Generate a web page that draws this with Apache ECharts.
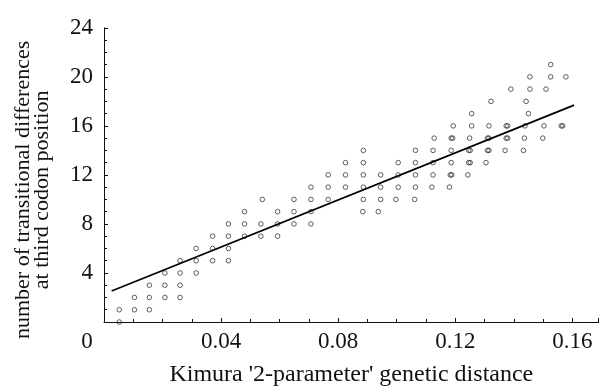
<!DOCTYPE html>
<html>
<head>
<meta charset="utf-8">
<script src="https://cdn.jsdelivr.net/npm/echarts@6/dist/echarts.min.js"></script>
<style>html,body{margin:0;padding:0;background:#fff}#c{width:600px;height:392px}</style>
</head>
<body>
<div id="c"></div>
<script>
// Kimura 2-parameter distance (x) and number of transitions at 3rd codon position (y)
var distance = [
  0.0052,
  0.0052, 0.0104, 0.0155,
  0.0104, 0.0155, 0.0208, 0.0260,
  0.0155, 0.0208, 0.0260,
  0.0208, 0.0260, 0.0315,
  0.0260, 0.0315, 0.0371, 0.0425,
  0.0315, 0.0371, 0.0425,
  0.0371, 0.0425, 0.0480, 0.0536, 0.0593,
  0.0425, 0.0480, 0.0536, 0.0593, 0.0649, 0.0707,
  0.0480, 0.0593, 0.0649, 0.0707, 0.0884, 0.0937,
  0.0541, 0.0649, 0.0707, 0.0766, 0.0886, 0.0945, 0.0997, 0.1061,
  0.0707, 0.0766, 0.0825, 0.0886, 0.0945, 0.1005, 0.1064, 0.1120, 0.1180,
  0.0766, 0.0825, 0.0886, 0.0945, 0.1005, 0.1064, 0.1124, 0.1183, 0.1188, 0.1243,
  0.0825, 0.0886, 0.1005, 0.1064, 0.1124, 0.1186, 0.1246, 0.1251, 0.1305,
  0.0886, 0.1064, 0.1124, 0.1186, 0.1246, 0.1251, 0.1310, 0.1315, 0.1370, 0.1433,
  0.1128, 0.1186, 0.1191, 0.1249, 0.1310, 0.1315, 0.1374, 0.1379, 0.1436, 0.1499,
  0.1193, 0.1256, 0.1315, 0.1374, 0.1379, 0.1438, 0.1503, 0.1562, 0.1567,
  0.1256, 0.1450,
  0.1322, 0.1442,
  0.1390, 0.1455, 0.1510,
  0.1455, 0.1526, 0.1578,
  0.1526
];
var transitions = [
  0,
  1, 1, 1,
  2, 2, 2, 2,
  3, 3, 3,
  4, 4, 4,
  5, 5, 5, 5,
  6, 6, 6,
  7, 7, 7, 7, 7,
  8, 8, 8, 8, 8, 8,
  9, 9, 9, 9, 9, 9,
  10, 10, 10, 10, 10, 10, 10, 10,
  11, 11, 11, 11, 11, 11, 11, 11, 11,
  12, 12, 12, 12, 12, 12, 12, 12, 12, 12,
  13, 13, 13, 13, 13, 13, 13, 13, 13,
  14, 14, 14, 14, 14, 14, 14, 14, 14, 14,
  15, 15, 15, 15, 15, 15, 15, 15, 15, 15,
  16, 16, 16, 16, 16, 16, 16, 16, 16,
  17, 17,
  18, 18,
  19, 19, 19,
  20, 20, 20,
  21
];
// regression line end points
var fitX = [0.0026, 0.1606];
var fitY = [2.53, 17.69];

var xTickLabels = ['0', '0.04', '0.08', '0.12', '0.16'];
var yTickLabels = ['4', '8', '12', '16', '20', '24'];
var xTitle = "Kimura '2-parameter' genetic distance";
var yTitle = 'number of transitional differences\nat third codon position';

var pts = distance.map(function (d, i) { return [d, transitions[i]]; });
var fit = fitX.map(function (d, i) { return [d, fitY[i]]; });

var FONT = "'Liberation Serif', 'Times New Roman', serif";
var chart = echarts.init(document.getElementById('c'), null, {renderer: 'canvas'});
chart.setOption({
  animation: false,
  backgroundColor: '#fff',
  grid: {left: 104, top: 27.8, right: 1.3, bottom: 66.6, containLabel: false},
  xAxis: {
    type: 'value', min: 0, max: 0.169, interval: 0.04,
    name: xTitle, nameLocation: 'middle', nameGap: 41,
    nameTextStyle: {fontFamily: FONT, fontSize: 24, color: '#111'},
    axisLine: {show: true, onZero: false, lineStyle: {color: '#111', width: 1}},
    axisTick: {show: true, inside: true, length: 4, lineStyle: {color: '#111'}},
    minorTick: {show: true, splitNumber: 4, length: 3, lineStyle: {color: '#111'}},
    splitLine: {show: false},
    axisLabel: {
      fontFamily: FONT, fontSize: 23, color: '#111', margin: 8, showMaxLabel: false,
      formatter: function (v) {
        var idx = Math.round(v / 0.04);
        if (idx === 0) return '{z|' + xTickLabels[0] + '}';
        return xTickLabels[idx] || '';
      },
      rich: {z: {fontFamily: FONT, fontSize: 23, color: '#111', padding: [0, 34, 0, 0]}}
    }
  },
  yAxis: {
    type: 'value', min: 0, max: 24, interval: 4,
    name: yTitle, nameLocation: 'middle', nameGap: 52,
    nameTextStyle: {fontFamily: FONT, fontSize: 22, lineHeight: 19, color: '#111', padding: [0, 30, 0, 0]},
    axisLine: {show: true, onZero: false, lineStyle: {color: '#111', width: 1}},
    axisTick: {show: true, inside: true, length: 4, lineStyle: {color: '#111'}},
    minorTick: {show: true, splitNumber: 4, length: 3, lineStyle: {color: '#111'}},
    splitLine: {show: false},
    axisLabel: {
      fontFamily: FONT, fontSize: 23, color: '#111', margin: 11,
      formatter: function (v) {
        if (v === 0) return '';
        return yTickLabels[Math.round(v / 4) - 1] || '';
      }
    }
  },
  series: [
    {
      type: 'scatter', data: pts, symbol: 'circle', symbolSize: 4.6,
      itemStyle: {color: 'rgba(255,255,255,0)', borderColor: '#222', borderWidth: 0.9},
      silent: true
    },
    {
      type: 'line', data: fit, symbol: 'none',
      lineStyle: {color: '#000', width: 1.7},
      silent: true
    }
  ]
});
</script>
</body>
</html>
